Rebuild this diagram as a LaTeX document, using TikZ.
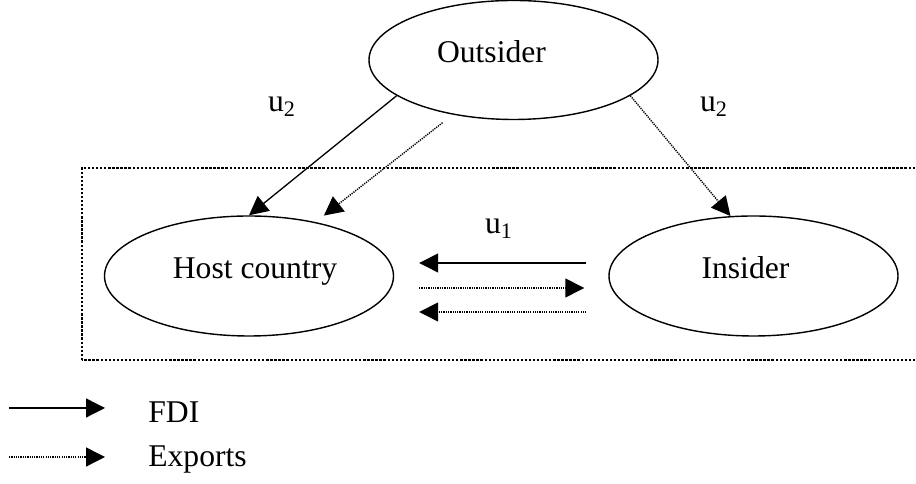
\documentclass[tikz,border=0pt]{standalone}
\usepackage{fontspec}
\setmainfont{Liberation Serif}
\usetikzlibrary{shapes,arrows.meta,positioning}

\tikzset{
  actor/.style={draw, ellipse, line width=0.8pt, minimum width=5.78cm, minimum height=2.4cm, inner sep=0pt, text height=12pt, text depth=8.6pt, font=\fontsize{18}{22}\selectfont},
  fdi/.style={line width=0.75pt, -{Triangle[length=0.38cm,width=0.38cm]}},
  export/.style={line width=0.8pt, dash pattern=on 0.7pt off 0.6pt, -{Triangle[length=0.38cm,width=0.38cm]}},
  lbl/.style={font=\fontsize{18}{22}\selectfont}
}

\begin{document}
\begin{tikzpicture}
    \useasboundingbox (0,0) rectangle (18.32,9.68);

    % Players
    \node[actor, minimum height=2.38cm] (outsider) at (10.27,8.48) {Outsider\hspace*{0.88cm}};
    \node[actor] (host) at (4.98,4.16) {\hspace*{0.24cm}Host country};
    \node[actor] (insider) at (15.07,4.16) {Insider\hspace*{0.32cm}};

    % Host region
    \draw[line width=1.4pt, dash pattern=on 1.3pt off 1pt] (1.64,2.48) rectangle (18.5,6.32);

    % Outsider enters
    \draw[fdi] (outsider.197) -- (host.north);
    \draw[export, shorten <=0.26cm, shorten >=0.21cm] (outsider.222) -- (host.39);
    \draw[export] (outsider.343) -- (insider.111);

    % Between host and insider
    \draw[fdi, shorten <=0.44cm, shorten >=0.5cm] ([yshift=0.26cm]insider.west) -- ([yshift=0.26cm]host.east);
    \draw[export, shorten <=0.5cm, shorten >=0.48cm] ([yshift=-0.24cm]host.east) -- ([yshift=-0.24cm]insider.west);
    \draw[export, shorten <=0.44cm, shorten >=0.5cm] ([yshift=-0.72cm]insider.west) -- ([yshift=-0.72cm]host.east);

    % Utilities
    \node[lbl] (u2left) at (5.64,7.54) {u\textsubscript{2}};
    \node[lbl] (u2right) at (14.28,7.54) {u\textsubscript{2}};
    \node[lbl] (u1) at (9.98,5.1) {u\textsubscript{1}};

    % Legend
    \coordinate (fdiA) at (0.18,1.52);
    \coordinate (fdiB) at (2.1,1.52);
    \coordinate (expA) at (0.18,0.54);
    \coordinate (expB) at (2.1,0.54);
    \draw[fdi] (fdiA) -- (fdiB);
    \draw[export] (expA) -- (expB);
    \node[lbl, anchor=base west, inner sep=0pt] (fdikey) at (2.96,1.22) {FDI};
    \node[lbl, anchor=base west, inner sep=0pt] (expkey) at (2.96,0.34) {Exports};
\end{tikzpicture}
\end{document}
